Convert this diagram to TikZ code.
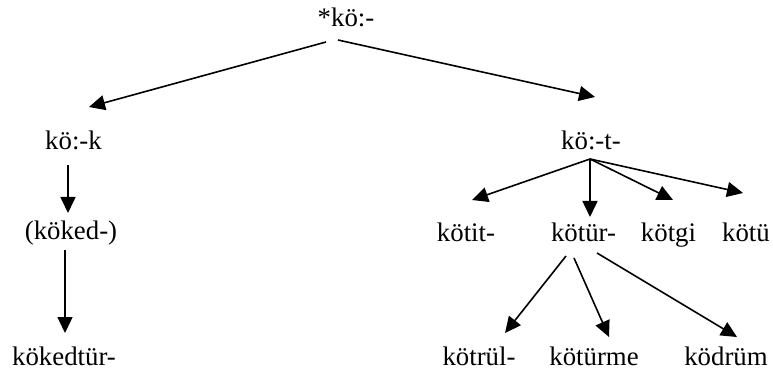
\documentclass[tikz,border=0pt]{standalone}
\usepackage{fontspec}
\setmainfont{Liberation Serif}
\usetikzlibrary{arrows.meta}
\tikzset{
  lbl/.style={anchor=base, inner sep=0pt, font=\fontsize{26.8}{30}\selectfont},
  arr/.style={line width=1.6pt, -{Triangle[length=16pt,width=15pt]}}
}
\newcommand{\at}[3]{([shift={(#2,#3)}]#1.base)}
\begin{document}
\begin{tikzpicture}[x=1pt,y=-1pt]
\useasboundingbox (0,0) rectangle (773,371);
\node[lbl] (root) at (346,27) {*kö:-};
\node[lbl] (kok) at (73.5,150) {kö:-k};
\node[lbl] (koked) at (71,240) {(köked-)};
\node[lbl] (kokedtur) at (64,365) {kökedtür-};
\node[lbl] (kot) at (591,150) {kö:-t-};
\node[lbl] (kotit) at (466,241) {kötit-};
\node[lbl] (kotur) at (583.5,241) {kötür-};
\node[lbl] (kotgi) at (668.5,241) {kötgi};
\node[lbl] (kotu) at (746,241) {kötü};
\node[lbl] (kotrul) at (479,365) {kötrül-};
\node[lbl] (koturme) at (594,365) {kötürme};
\node[lbl] (kodrum) at (726,365) {ködrüm};

\draw[arr] \at{root}{-20}{15} -- \at{kok}{15.5}{-43};
\draw[arr] \at{root}{-8}{13} -- \at{kot}{4}{-53};
\draw[arr] \at{kok}{-5.5}{15} -- \at{koked}{-3}{-27};
\draw[arr] \at{koked}{-6}{10} -- \at{kokedtur}{1}{-32};
\draw[arr] \at{kot}{-1}{9} -- \at{kotit}{6}{-41};
\draw[arr] \at{kot}{-1}{9} -- \at{kotur}{6.5}{-24};
\draw[arr] \at{kot}{-1}{9} -- \at{kotgi}{4.5}{-41};
\draw[arr] \at{kot}{-1}{9} -- \at{kotu}{-3}{-48};
\draw[arr] \at{kotur}{-17.5}{15} -- \at{kotrul}{26}{-32};
\draw[arr] \at{kotur}{-9.5}{17} -- \at{koturme}{15}{-28};
\draw[arr] \at{kotur}{13.5}{12} -- \at{kodrum}{11}{-28};
\end{tikzpicture}
\end{document}
